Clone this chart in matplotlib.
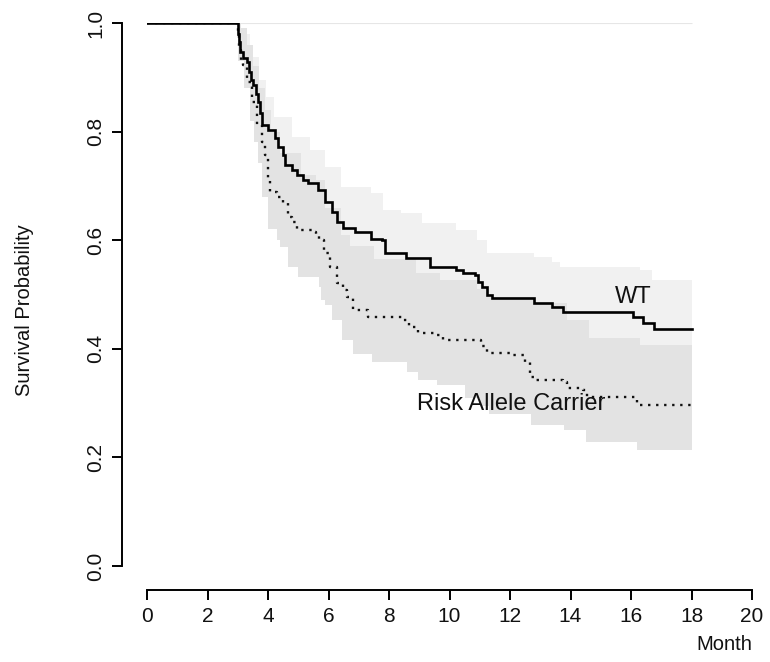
import numpy as np
import matplotlib
matplotlib.use("Agg")
import matplotlib.pyplot as plt

plt.rcParams['font.family'] = ['Liberation Sans', 'DejaVu Sans']

END_T = 18.0

# ---- WT survival curve ----
wt_time = [0, 3.0, 3.03, 3.07, 3.17, 3.3, 3.38, 3.45, 3.5, 3.6, 3.67, 3.72, 3.79, 4.0, 4.23, 4.33,
           4.5, 4.56, 4.79, 4.96, 5.16, 5.32, 5.65, 5.88, 6.12, 6.28, 6.48, 6.88, 7.4, 7.77, 7.87,
           8.55, 9.36, 10.2, 10.45, 10.85, 10.95, 11.07, 11.24, 11.4, 12.8, 13.4, 13.75, 16.07,
           16.4, 16.75]
wt_surv = [1.0, 0.98, 0.965, 0.947, 0.935, 0.929, 0.91, 0.895, 0.886, 0.87, 0.855, 0.835, 0.812,
           0.803, 0.788, 0.772, 0.757, 0.738, 0.729, 0.72, 0.711, 0.705, 0.692, 0.67, 0.652, 0.634,
           0.622, 0.615, 0.603, 0.6, 0.576, 0.567, 0.551, 0.545, 0.54, 0.535, 0.523, 0.514, 0.499,
           0.494, 0.484, 0.477, 0.468, 0.459, 0.448, 0.436]

# WT confidence band
wt_up_time = [3.0, 3.1, 3.4, 3.7, 3.95, 4.2, 4.8, 5.4, 5.9, 6.4, 7.4, 7.8, 8.4, 9.1, 10.2, 10.9,
              11.25, 12.8, 13.4, 13.65, 16.3, 16.7]
wt_upper = [1.0, 0.98, 0.937, 0.895, 0.864, 0.827, 0.79, 0.766, 0.735, 0.698, 0.687, 0.656, 0.65,
            0.632, 0.619, 0.6, 0.576, 0.569, 0.56, 0.551, 0.545, 0.527]
wt_lo_time = [3.0, 3.5, 4.0, 4.5, 5.0, 6.0, 7.0, 8.0, 9.4, 11.0, 12.8, 14.0, 16.1, 16.8]
wt_lower = [0.95, 0.82, 0.74, 0.69, 0.64, 0.58, 0.53, 0.5, 0.48, 0.44, 0.4, 0.39, 0.38, 0.35]

# ---- Risk allele carrier survival curve ----
rk_time = [0, 3.0, 3.05, 3.12, 3.17, 3.3, 3.47, 3.63, 3.79, 3.9, 4.0, 4.05, 4.3, 4.5, 4.66, 4.78,
           4.95, 5.45, 5.6, 5.7, 5.85, 6.05, 6.28, 6.48, 6.6, 6.8, 7.3, 8.45, 8.65, 8.95, 9.6,
           9.8, 11.05, 11.25, 12.0, 12.5, 12.65, 12.85, 13.75, 13.9, 14.4, 14.55, 16.2]
rk_surv = [1.0, 0.98, 0.95, 0.929, 0.923, 0.892, 0.855, 0.812, 0.781, 0.757, 0.715, 0.689, 0.68,
           0.668, 0.643, 0.634, 0.619, 0.616, 0.61, 0.6, 0.576, 0.551, 0.521, 0.508, 0.495, 0.471,
           0.459, 0.453, 0.44, 0.429, 0.425, 0.416, 0.405, 0.392, 0.389, 0.376, 0.348, 0.343,
           0.339, 0.328, 0.324, 0.311, 0.296]

rk_up_time = [3.0, 3.1, 3.3, 3.5, 3.7, 3.9, 4.1, 4.4, 5.1, 5.6, 5.9, 6.4, 6.7, 7.5, 8.9, 9.7,
              10.9, 11.3, 12.8, 13.9, 14.6, 16.3]
rk_upper = [1.0, 0.99, 0.96, 0.92, 0.88, 0.84, 0.8, 0.76, 0.72, 0.71, 0.66, 0.61, 0.59, 0.565,
            0.54, 0.527, 0.51, 0.495, 0.484, 0.453, 0.42, 0.407]
rk_lo_time = [3.0, 3.2, 3.4, 3.55, 3.67, 3.79, 4.0, 4.29, 4.4, 4.66, 5.0, 5.7, 5.75, 5.9, 6.1,
              6.45, 6.8, 7.45, 8.6, 8.95, 9.6, 10.5, 11.0, 11.3, 12.7, 13.8, 14.5, 16.2]
rk_lower = [0.93, 0.88, 0.82, 0.78, 0.742, 0.68, 0.62, 0.6, 0.587, 0.551, 0.532, 0.514, 0.49,
            0.48, 0.453, 0.416, 0.39, 0.376, 0.357, 0.343, 0.333, 0.31, 0.295, 0.28, 0.26, 0.25,
            0.228, 0.214]

x_ticks = [0, 2, 4, 6, 8, 10, 12, 14, 16, 18, 20]
y_ticks = [0.0, 0.2, 0.4, 0.6, 0.8, 1.0]
y_ticklabels = ["0.0", "0.2", "0.4", "0.6", "0.8", "1.0"]


def step_band(t_up, up, t_lo, lo, end):
    t = np.unique(np.concatenate([t_up, t_lo, [end]]))
    iu = np.searchsorted(t_up, t, side='right') - 1
    il = np.searchsorted(t_lo, t, side='right') - 1
    return t, np.asarray(lo)[il], np.asarray(up)[iu]


W, H = 770, 662
fig = plt.figure(figsize=(W / 100, H / 100), dpi=100)
ax = fig.add_axes([147 / W, (H - 566) / H, 605 / W, 543 / H])
ax.set_xlim(0, 20)
ax.set_ylim(0, 1)

# bands
t, lo, hi = step_band(wt_up_time, wt_upper, wt_lo_time, wt_lower, END_T)
ax.fill_between(t, lo, hi, step='post', color='#f1f1f1', lw=0, zorder=1)
t, lo, hi = step_band(rk_up_time, rk_upper, rk_lo_time, rk_lower, END_T)
ax.fill_between(t, lo, hi, step='post', color='#e3e3e3', lw=0, zorder=2)
ax.hlines(wt_upper[0], wt_up_time[0], END_T, color='#e6e6e6', lw=0.8, zorder=2)

# curves
ax.step(list(wt_time) + [END_T], list(wt_surv) + [wt_surv[-1]], where='post',
        color='black', lw=1.9, zorder=4, solid_joinstyle='miter')
ax.step(list(rk_time) + [END_T], list(rk_surv) + [rk_surv[-1]], where='post',
        color='#111111', lw=1.7, linestyle=(0, (1, 2.4)), zorder=3)

ax.text(16.07, 0.495, "WT", fontsize=17, ha='center', va='center', color='#111111')
ax.text(12.05, 0.298, "Risk Allele Carrier", fontsize=17, ha='center', va='center',
        color='#111111')

# axes styling (R base-graphics look)
for s in ['top', 'right']:
    ax.spines[s].set_visible(False)
ax.spines['left'].set_position(('outward', 18))
ax.spines['bottom'].set_position(('outward', 17.3))
ax.spines['left'].set_bounds(0, 1)
ax.spines['bottom'].set_bounds(0, 20)
ax.spines['left'].set_linewidth(1.4)
ax.spines['bottom'].set_linewidth(1.4)
ax.set_xticks(x_ticks)
ax.set_xticklabels([str(v) for v in x_ticks])
ax.set_yticks(y_ticks)
ax.set_yticklabels(y_ticklabels, rotation=90, va='center')
ax.tick_params(axis='both', length=7, width=1.4, labelsize=15, color='black',
               labelcolor='#111111', pad=5)

fig.text(25 / W, 1 - 310 / H, "Survival Probability", rotation=90, fontsize=14.5,
         ha='center', va='center', color='#111111')
fig.text(752 / W, 1 - 644 / H, "Month", fontsize=14.5, ha='right', va='center',
         color='#111111')

fig.savefig("out.png", dpi=100)
